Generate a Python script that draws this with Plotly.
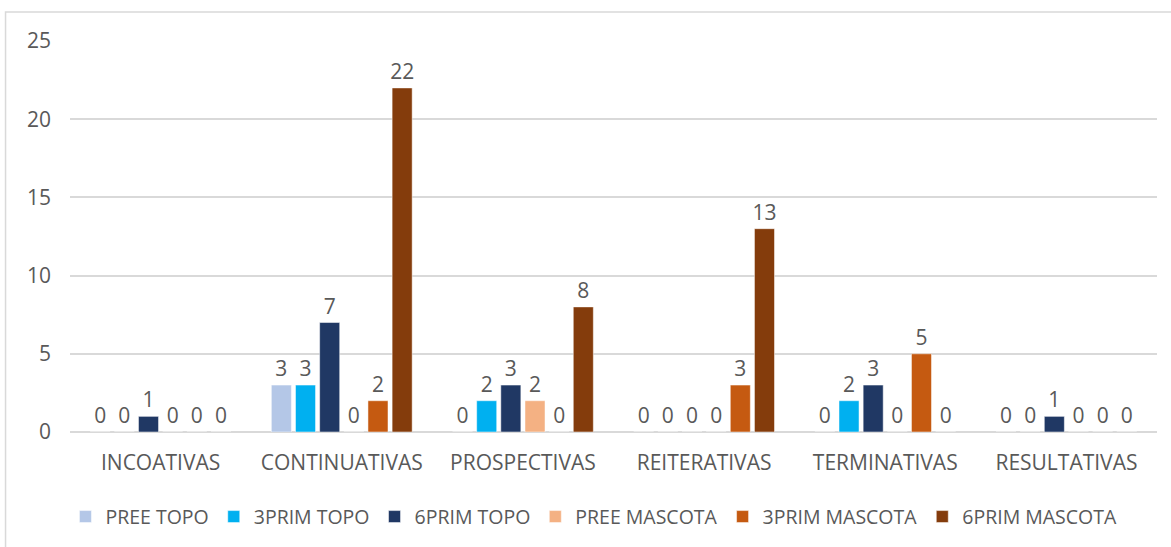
import plotly.graph_objects as go

categories = ["INCOATIVAS", "CONTINUATIVAS", "PROSPECTIVAS", "REITERATIVAS", "TERMINATIVAS", "RESULTATIVAS"]
series_names = ["PREE TOPO", "3PRIM TOPO", "6PRIM TOPO", "PREE MASCOTA", "3PRIM MASCOTA", "6PRIM MASCOTA"]
pree_topo = [0, 3, 0, 0, 0, 0]
prim3_topo = [0, 3, 2, 0, 2, 0]
prim6_topo = [1, 7, 3, 0, 3, 1]
pree_mascota = [0, 0, 2, 0, 0, 0]
prim3_mascota = [0, 2, 0, 3, 5, 0]
prim6_mascota = [0, 22, 8, 13, 0, 0]
series_values = [pree_topo, prim3_topo, prim6_topo, pree_mascota, prim3_mascota, prim6_mascota]
colors = ["#B4C7E7", "#00B0F0", "#203864", "#F4B183", "#C55A11", "#843C0C"]
y_ticks = [0, 5, 10, 15, 20, 25]

FONT = "Open Sans"
GRAY = "#595959"

fig = go.Figure()
for name, vals, col in zip(series_names, series_values, colors):
    fig.add_trace(go.Bar(
        x=categories, y=vals, name=name,
        marker=dict(color=col, line=dict(color="#FFFFFF", width=0.5)),
        text=[str(v) for v in vals], textposition="outside", constraintext="none",
        textfont=dict(family=FONT, size=21, color=GRAY),
        cliponaxis=False,
    ))

fig.update_layout(
    width=1171, height=547,
    margin=dict(l=70, r=14, t=41, b=114),
    paper_bgcolor="white", plot_bgcolor="white",
    barmode="group", bargap=0.2, bargroupgap=0.17,
    font=dict(family=FONT, size=21, color=GRAY),
    showlegend=True,
    legend=dict(orientation="h", x=0.482, xanchor="center", y=-0.214, yanchor="middle",
                font=dict(family=FONT, size=19.5, color=GRAY), itemclick=False),
    xaxis=dict(showgrid=False, showline=False, ticks="", ticklabelstandoff=16,
               tickfont=dict(family=FONT, size=21, color=GRAY)),
    yaxis=dict(range=[0, 25], tickvals=y_ticks, showgrid=True, gridcolor="#D9D9D9", gridwidth=1.5,
               zeroline=True, zerolinecolor="#D9D9D9", zerolinewidth=1.5, showline=False,
               ticks="", ticklabelstandoff=18,
               tickfont=dict(family=FONT, size=21, color=GRAY)),
    shapes=[dict(type="rect", xref="paper", yref="paper",
                 x0=-0.0593, x1=1.05, y0=-0.35, y1=1.074,
                 line=dict(color="#D9D9D9", width=1.5), fillcolor="rgba(0,0,0,0)", layer="below")],
)

fig.write_html("out.html")
